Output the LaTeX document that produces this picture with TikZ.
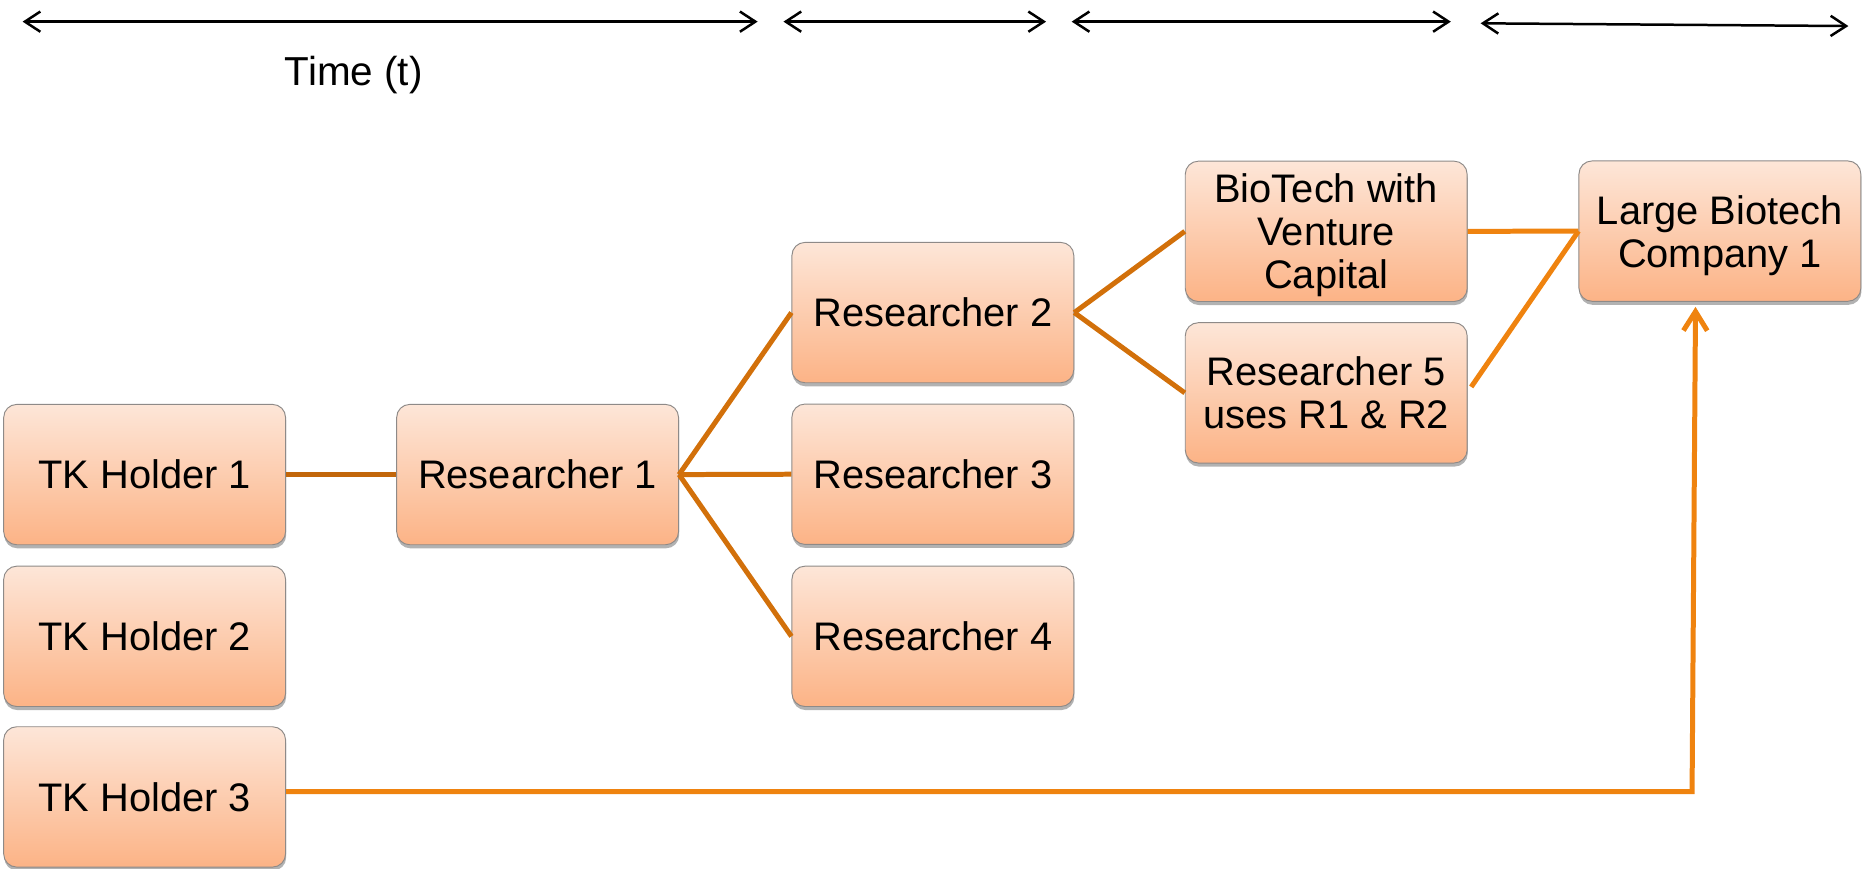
\documentclass[tikz,border=0pt]{standalone}
\usepackage{fontspec}
\setmainfont{Liberation Sans}
\usetikzlibrary{arrows.meta,shadows,calc}
\definecolor{boxtop}{HTML}{FDE6D8}
\definecolor{boxbot}{HTML}{FCB386}
\definecolor{boxline}{HTML}{8E8A88}
\definecolor{linedark}{HTML}{C2660A}
\definecolor{linemid}{HTML}{D2700A}
\definecolor{linebright}{HTML}{EF830F}
\begin{document}
\begin{tikzpicture}[x=1pt,y=-1pt,
  box/.style={draw=boxline, line width=0.8pt, rounded corners=11pt,
    top color=boxtop, bottom color=boxbot,
    minimum width=237pt, minimum height=118pt, inner sep=0pt, align=center,
    font=\fontsize{33.5}{36.2}\selectfont,
    drop shadow={shadow xshift=0.5pt, shadow yshift=-3pt, opacity=0.3, fill=black}},
  timeline/.style={draw=black, line width=2.1pt, >={Straight Barb[length=13pt,width=17pt]}, <->},
  dk/.style={draw=linedark, line width=4.2pt},
  md/.style={draw=linemid, line width=4.2pt},
  br/.style={draw=linebright, line width=4.2pt}
]
\useasboundingbox (0,0) rectangle (1568,730.6);

% timeline arrows
\coordinate (t1a) at (19,18.2);
\coordinate (t1b) at (637,18.2);
\coordinate (t2a) at (658.7,18.2);
\coordinate (t2b) at (879.5,18.2);
\coordinate (t3a) at (901,18.2);
\coordinate (t3b) at (1219.8,18.2);
\coordinate (t4a) at (1244.8,19.6);
\coordinate (t4b) at (1554,21.9);
\draw[timeline] (t1a) -- (t1b);
\draw[timeline] (t2a) -- (t2b);
\draw[timeline] (t3a) -- (t3b);
\draw[timeline] (t4a) -- (t4b);
\node[anchor=base, font=\fontsize{34}{40}\selectfont, inner sep=0pt] (time) at (297.5,72.3) {Time (t)};

% boxes
\node[box] (tk1) at (121.6,399) {TK Holder 1};
\node[box] (tk2) at (121.6,535) {TK Holder 2};
\node[box] (tk3) at (121.6,670) {TK Holder 3};
\node[box] (r1) at (452,399) {Researcher 1};
\node[box] (r2) at (784.3,262.8) {Researcher 2};
\node[box] (r3) at (784.3,398.7) {Researcher 3};
\node[box] (r4) at (784.3,535) {Researcher 4};
\node[box, text depth=0pt] (bt) at (1115,194.5) {BioTech with\\Venture\\Capital};
\node[box] (r5) at (1115,330.3) {Researcher 5\\uses R1 \& R2};
\node[box, text depth=0pt] (lb) at (1446,194.3) {Large Biotech\\Company 1};

% connectors
\draw[dk] (tk1.east) -- (r1.west);
\draw[md] (r1.east) -- (r2.west);
\draw[md] (r1.east) -- (r3.west);
\draw[md] (r1.east) -- (r4.west);
\draw[md] (r2.east) -- (bt.west);
\draw[md] (r2.east) -- (r5.west);
\draw[br] (bt.east) -- (lb.west);
\draw[br] ($(r5.east)+(3,-5)$) -- (lb.west);
\coordinate (corner) at (1422.6,665.5);
\coordinate (arrend) at (1425.5,258);
\draw[br, -{Straight Barb[length=16pt,width=20pt]}] (tk3.east |- corner) -- (corner) -- (arrend);
\end{tikzpicture}
\end{document}
